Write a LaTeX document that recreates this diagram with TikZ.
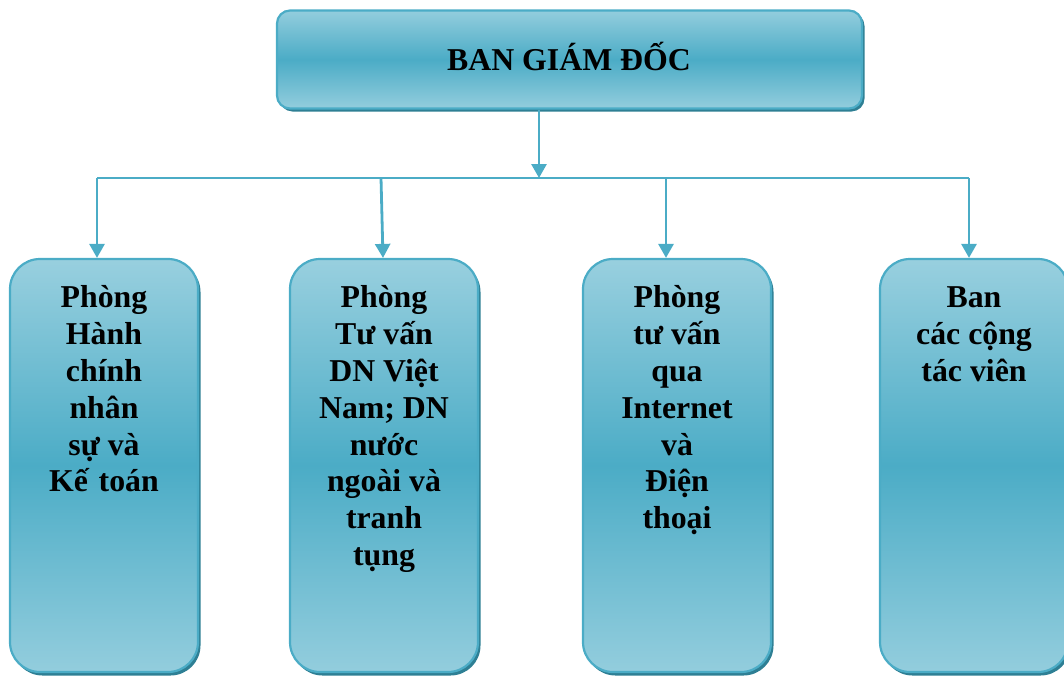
\documentclass[tikz,border=0pt]{standalone}
\usepackage{fontspec}
\setmainfont{Liberation Serif}
\usetikzlibrary{arrows.meta,calc}
\definecolor{accent}{HTML}{4BACC6}
\definecolor{lightacc}{HTML}{93CDDD}
\definecolor{shadowacc}{HTML}{2E7F94}
\tikzset{
  boxfont/.style={font=\fontsize{31.8}{36.8}\selectfont\bfseries},
  topbox/.style={draw=accent, line width=2.2pt, rounded corners=13pt,
    top color=lightacc, bottom color=lightacc, middle color=accent,
    minimum width=585pt, minimum height=98pt, inner sep=0pt},
  lowbox/.style={draw=accent, line width=2.2pt, rounded corners=30pt,
    top color=lightacc!95!white, bottom color=lightacc, middle color=accent,
    minimum width=188pt, minimum height=413pt, inner sep=0pt},
  conn/.style={draw=accent, line width=2.8pt},
  arr/.style={conn, -{Triangle[length=14pt,width=15pt]}},
  lowtext/.style={boxfont, align=center, anchor=north, inner sep=0pt}
}
\begin{document}
\begin{tikzpicture}[x=1pt,y=-1pt]
\useasboundingbox (0,0) rectangle (1064,675);
% shadows
\fill[shadowacc, rounded corners=13pt] (279.5,13) rectangle (864.5,111.5);
\foreach \cx in {104,384,677,974}{
  \fill[shadowacc, rounded corners=30pt] (\cx-94+2.5,262) rectangle (\cx+94+2.5,675.5);
}
% top box
\node[topbox] (top) at (569.5,59.5) {};
\node[boxfont, anchor=base] (toptext) at (569,70) {BAN GIÁM ĐỐC};
% lower boxes
\node[lowbox] (b1) at (104,465.5) {};
\node[lowbox] (b2) at (384,465.5) {};
\node[lowbox] (b3) at (677,465.5) {};
\node[lowbox] (b4) at (974,465.5) {};
\node[lowtext] (t1) at (104,285.5) {Phòng\\Hành\\chính\\nhân\\sự và\\Kế\,\,toán};
\node[lowtext] (t2) at (384,285.5) {Phòng\\Tư vấn\\DN Việt\\Nam; DN\\nước\\ngoài và\\tranh\\tụng};
\node[lowtext] (t3) at (677,285.5) {Phòng\\tư vấn\\qua\\Internet\\và\\Điện\\thoại};
\node[lowtext] (t4) at (974,286.5) {Ban\\các cộng\\tác viên};
% connectors
\coordinate (jc) at (539,178);
\coordinate (j1) at (97,178);
\coordinate (j2) at (381,178);
\coordinate (j3) at (666,178);
\coordinate (j4) at (969,178);
\draw[arr] (top.south -| jc) -- (jc);
\draw[conn] (j1) -- (j4);
\draw[arr] (j1) -- (j1 |- b1.north);
\draw[arr] (j2) -- ($(j2 |- b2.north)+(2,0)$);
\draw[arr] (j3) -- (j3 |- b3.north);
\draw[arr] (j4) -- (j4 |- b4.north);
\end{tikzpicture}
\end{document}
